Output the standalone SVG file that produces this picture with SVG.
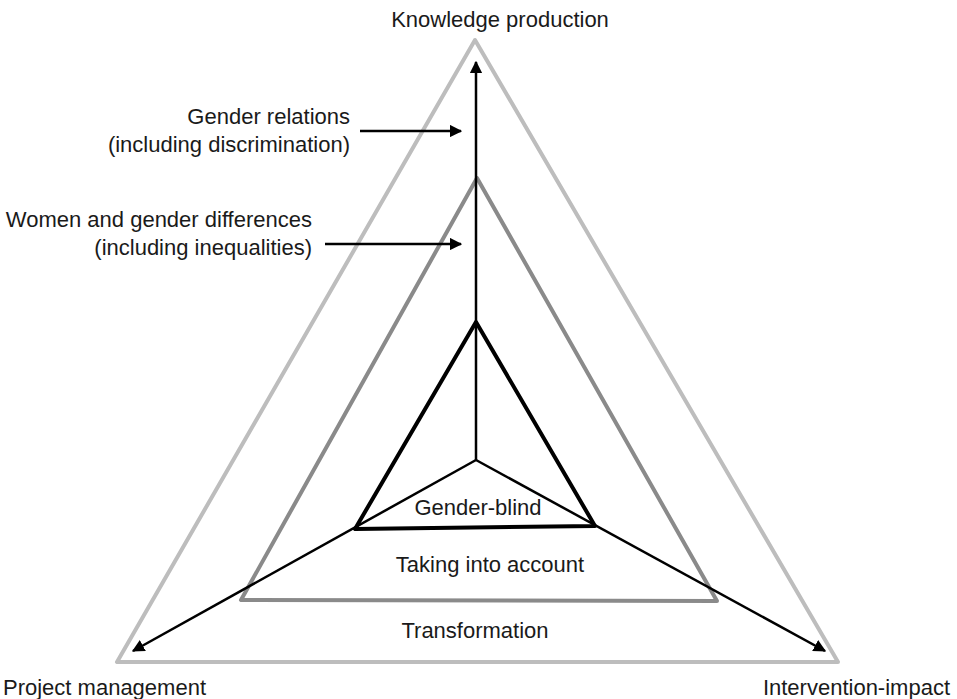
<svg xmlns="http://www.w3.org/2000/svg" width="957" height="699" viewBox="0 0 957 699">
<defs>
<style>
text{font-family:"Liberation Sans",Arial,sans-serif;font-size:22px;fill:#1a1a1a}
.axis{stroke:#000;stroke-width:2.5;fill:none}
.tri{fill:none;stroke-linejoin:round;stroke-width:4}
</style>
<marker id="ah" viewBox="0 0 10 10" refX="9" refY="5" markerWidth="5" markerHeight="5" orient="auto" markerUnits="strokeWidth">
<path d="M0,0 L10,5 L0,10 Z" fill="#000"/>
</marker>
</defs>
<rect width="957" height="699" fill="#fff"/>
<g id="outer-triangle"><polygon class="tri" points="475,40 117,662 838,662" stroke="#bdbdbd"/><text x="475" y="638" text-anchor="middle">Transformation</text></g>
<g id="middle-triangle"><polygon class="tri" points="477,178 241,600 717,601" stroke="#8a8a8a"/><text x="490" y="572" text-anchor="middle">Taking into account</text></g>
<g id="inner-triangle"><polygon class="tri" points="476,322 355,529 595,526" stroke="#000"/><text x="478" y="515" text-anchor="middle">Gender-blind</text></g>
<g id="connectors">
<line class="axis" x1="476" y1="460" x2="476" y2="62" marker-end="url(#ah)"/>
<line class="axis" x1="476" y1="460" x2="133" y2="651" marker-end="url(#ah)"/>
<line class="axis" x1="476" y1="460" x2="825" y2="651" marker-end="url(#ah)"/>
<line class="axis" x1="360" y1="131" x2="461" y2="131" marker-end="url(#ah)"/>
<line class="axis" x1="325" y1="244" x2="461" y2="244" marker-end="url(#ah)"/>
</g>
<g id="knowledge-production"><text x="500" y="27" text-anchor="middle">Knowledge production</text></g>
<g id="project-management"><text x="3" y="695">Project management</text></g>
<g id="intervention-impact"><text x="950" y="695" text-anchor="end">Intervention-impact</text></g>
<g id="gender-relations"><text x="350" y="124" text-anchor="end">Gender relations</text><text x="350" y="152" text-anchor="end">(including discrimination)</text></g>
<g id="women-differences"><text x="312" y="227" text-anchor="end">Women and gender differences</text><text x="312" y="255" text-anchor="end">(including inequalities)</text></g>
</svg>
